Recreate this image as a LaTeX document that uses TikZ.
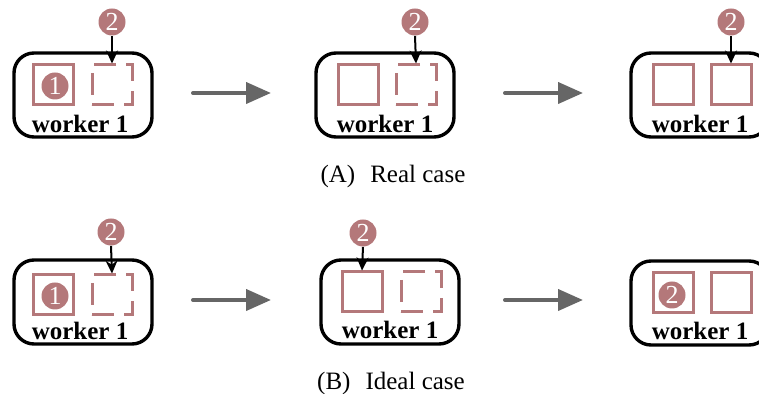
\documentclass[tikz,border=0pt]{standalone}
\usepackage{fontspec}
\setmainfont{Liberation Serif}
\usetikzlibrary{arrows.meta}

\definecolor{slotred}{RGB}{180,120,122}
\definecolor{flowgray}{RGB}{102,102,102}

\begin{document}
\begin{tikzpicture}[x=0.5pt, y=-0.5pt,
            workernode/.style={draw, line width=1.7pt, rounded corners=10pt, minimum width=69pt, minimum height=42pt, inner sep=0pt},
            slotnode/.style={draw=slotred, line width=1.5pt, minimum size=20pt, inner sep=0pt},
            freeslot/.style={slotnode, dash pattern=on 11pt off 5pt, dash phase=0pt},
            tasknode/.style={circle, fill=slotred, text=white, inner sep=0pt, minimum size=13.5pt, font=\fontsize{13}{13}\selectfont},
            namenode/.style={inner sep=0pt, font=\bfseries\fontsize{12.5}{12.5}\selectfont},
            capnode/.style={inner sep=0pt, font=\fontsize{12.5}{12.5}\selectfont},
            feed/.style={line width=1pt, -{Stealth[length=6.5pt, width=6pt]}},
            flowarrow/.style={flowgray, line width=2pt, line cap=round, -{Triangle[length=12.5pt, width=10.5pt]}},
        ]
            \useasboundingbox (0,0) rectangle (759,394);

            %Row A: real case
            \node[workernode](wa1) at (83,95) {};
            \node[workernode](wa2) at (385,95) {};
            \node[workernode](wa3) at (700,95) {};
            \node[namenode](na1) at (80,124) {worker 1};
            \node[namenode](na2) at (385,124) {worker 1};
            \node[namenode](na3) at (700,124) {worker 1};

            \node[slotnode](sa1) at (53,85) {};
            \node[freeslot](fa1) at (112,85) {};
            \node[slotnode](sa2) at (358,85) {};
            \node[freeslot](fa2) at (416,85) {};
            \node[slotnode](sa3) at (673,85) {};
            \node[slotnode](fa3) at (731,85) {};

            \node[tasknode](ta1) at (55,86) {1};
            \node[tasknode](qa1) at (112,22) {2};
            \node[tasknode](qa2) at (415,22) {2};
            \node[tasknode](qa3) at (731,22) {2};

            \node[capnode](capa) at (393,176) {(A)\hspace{0.6em}Real case};

            %Row B: ideal case
            \node[workernode](wb1) at (83,302) {};
            \node[workernode](wb2) at (390,302) {};
            \node[workernode](wb3) at (700,303) {};
            \node[namenode](nb1) at (80,331) {worker 1};
            \node[namenode](nb2) at (390,330) {worker 1};
            \node[namenode](nb3) at (700,331) {worker 1};

            \node[slotnode](sb1) at (53,295) {};
            \node[freeslot](fb1) at (112,295) {};
            \node[slotnode](sb2) at (362,292) {};
            \node[freeslot](fb2) at (421,292) {};
            \node[slotnode](sb3) at (673,293) {};
            \node[slotnode](fb3) at (731,293) {};

            \node[tasknode](tb1) at (55,296) {1};
            \node[tasknode](qb1) at (111,232) {2};
            \node[tasknode](qb2) at (363,233) {2};
            \node[tasknode](tb3) at (672,295) {2};

            \node[capnode](capb) at (391,383) {(B)\hspace{0.6em}Ideal case};

            %Lines
            \draw[feed](qa1.south) -- (fa1.north);
            \draw[feed](qa2.south) -- (fa2.north);
            \draw[feed](qa3.south) -- (fa3.north);
            \draw[feed](qb1.south) -- (fb1.north);
            \draw[feed](qb2.south) -- (sb2.north);

            %Steps
            \foreach \y in {93,300} {
                \draw[flowarrow] (193,\y) -- (271,\y);
                \draw[flowarrow] (505,\y) -- (583,\y);
            }
        \end{tikzpicture}
\end{document}
